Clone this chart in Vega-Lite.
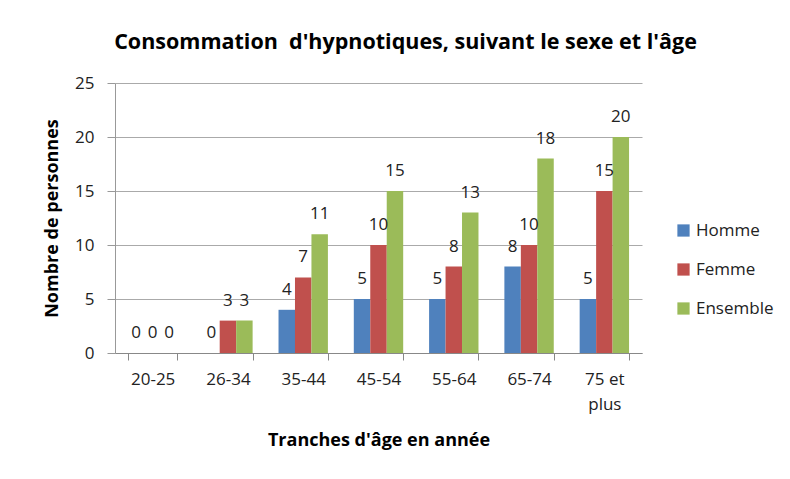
{
  "$schema": "https://vega.github.io/schema/vega-lite/v6.json",
  "width": 527,
  "height": 270,
  "autosize": {"type": "none"},
  "padding": {"left": 115, "top": 83, "right": 148, "bottom": 126},
  "background": "white",
  "config": {
    "font": "Open Sans",
    "view": {"stroke": null}
  },
  "title": {
    "text": "Consommation\u00a0 d'hypnotiques, suivant le sexe et l'âge",
    "fontSize": 21.5,
    "fontWeight": "bold",
    "color": "#000000",
    "anchor": "middle",
    "dx": 27,
    "offset": 21
  },
  "data": {
    "values": [
      {"age": "20-25", "sexe": "Homme", "n": 0},
      {"age": "20-25", "sexe": "Femme", "n": 0},
      {"age": "20-25", "sexe": "Ensemble", "n": 0},
      {"age": "26-34", "sexe": "Homme", "n": 0},
      {"age": "26-34", "sexe": "Femme", "n": 3},
      {"age": "26-34", "sexe": "Ensemble", "n": 3},
      {"age": "35-44", "sexe": "Homme", "n": 4},
      {"age": "35-44", "sexe": "Femme", "n": 7},
      {"age": "35-44", "sexe": "Ensemble", "n": 11},
      {"age": "45-54", "sexe": "Homme", "n": 5},
      {"age": "45-54", "sexe": "Femme", "n": 10},
      {"age": "45-54", "sexe": "Ensemble", "n": 15},
      {"age": "55-64", "sexe": "Homme", "n": 5},
      {"age": "55-64", "sexe": "Femme", "n": 8},
      {"age": "55-64", "sexe": "Ensemble", "n": 13},
      {"age": "65-74", "sexe": "Homme", "n": 8},
      {"age": "65-74", "sexe": "Femme", "n": 10},
      {"age": "65-74", "sexe": "Ensemble", "n": 18},
      {"age": "75 et plus", "sexe": "Homme", "n": 5},
      {"age": "75 et plus", "sexe": "Femme", "n": 15},
      {"age": "75 et plus", "sexe": "Ensemble", "n": 20}
    ]
  },
  "encoding": {
    "x": {
      "field": "age",
      "type": "nominal",
      "sort": null,
      "scale": {"paddingInner": 0.344, "paddingOuter": 0.172},
      "axis": {
        "title": "Tranches d'âge en année",
        "titleFontSize": 18,
        "titleFontWeight": "bold",
        "titleColor": "#000000",
        "titlePadding": 19,
        "labelAngle": 0,
        "labelFontSize": 17,
        "labelColor": "#222222",
        "labelPadding": 11,
        "labelLineHeight": 25,
        "labelExpr": "datum.value == '75 et plus' ? ['75 et', 'plus'] : datum.value",
        "tickBand": "extent",
        "tickSize": 7,
        "tickColor": "#888888",
        "domainColor": "#888888",
        "grid": false
      }
    },
    "xOffset": {
      "field": "sexe",
      "type": "nominal",
      "sort": ["Homme", "Femme", "Ensemble"],
      "scale": {"paddingInner": 0, "paddingOuter": 0}
    },
    "y": {
      "field": "n",
      "type": "quantitative",
      "scale": {"domain": [0, 25], "nice": false},
      "axis": {
        "title": "Nombre de personnes",
        "titleFontSize": 18,
        "titleFontWeight": "bold",
        "titleColor": "#000000",
        "titlePadding": 13,
        "values": [0, 5, 10, 15, 20, 25],
        "labelFontSize": 17,
        "labelColor": "#222222",
        "labelPadding": 13,
        "tickSize": 8,
        "tickColor": "#999999",
        "domainColor": "#999999",
        "gridColor": "#aaaaaa",
        "grid": true
      }
    }
  },
  "layer": [
    {
      "mark": {"type": "bar"},
      "encoding": {
        "color": {
          "field": "sexe",
          "type": "nominal",
          "sort": ["Homme", "Femme", "Ensemble"],
          "scale": {"domain": ["Homme", "Femme", "Ensemble"], "range": ["#4F81BD", "#C0504D", "#9BBB59"]},
          "legend": {
            "title": null,
            "orient": "none",
            "legendX": 560,
            "legendY": 139,
            "padding": 0,
            "symbolType": "square",
            "symbolSize": 150,
            "symbolStrokeWidth": 0,
            "symbolOpacity": 1,
            "labelFontSize": 17,
            "labelColor": "#222222",
            "labelOffset": 4,
            "rowPadding": 21
          }
        }
      }
    },
    {
      "mark": {"type": "text", "baseline": "alphabetic", "dy": -15, "fontSize": 17, "color": "#222222"},
      "encoding": {
        "text": {"field": "n", "type": "quantitative"}
      }
    }
  ]
}
